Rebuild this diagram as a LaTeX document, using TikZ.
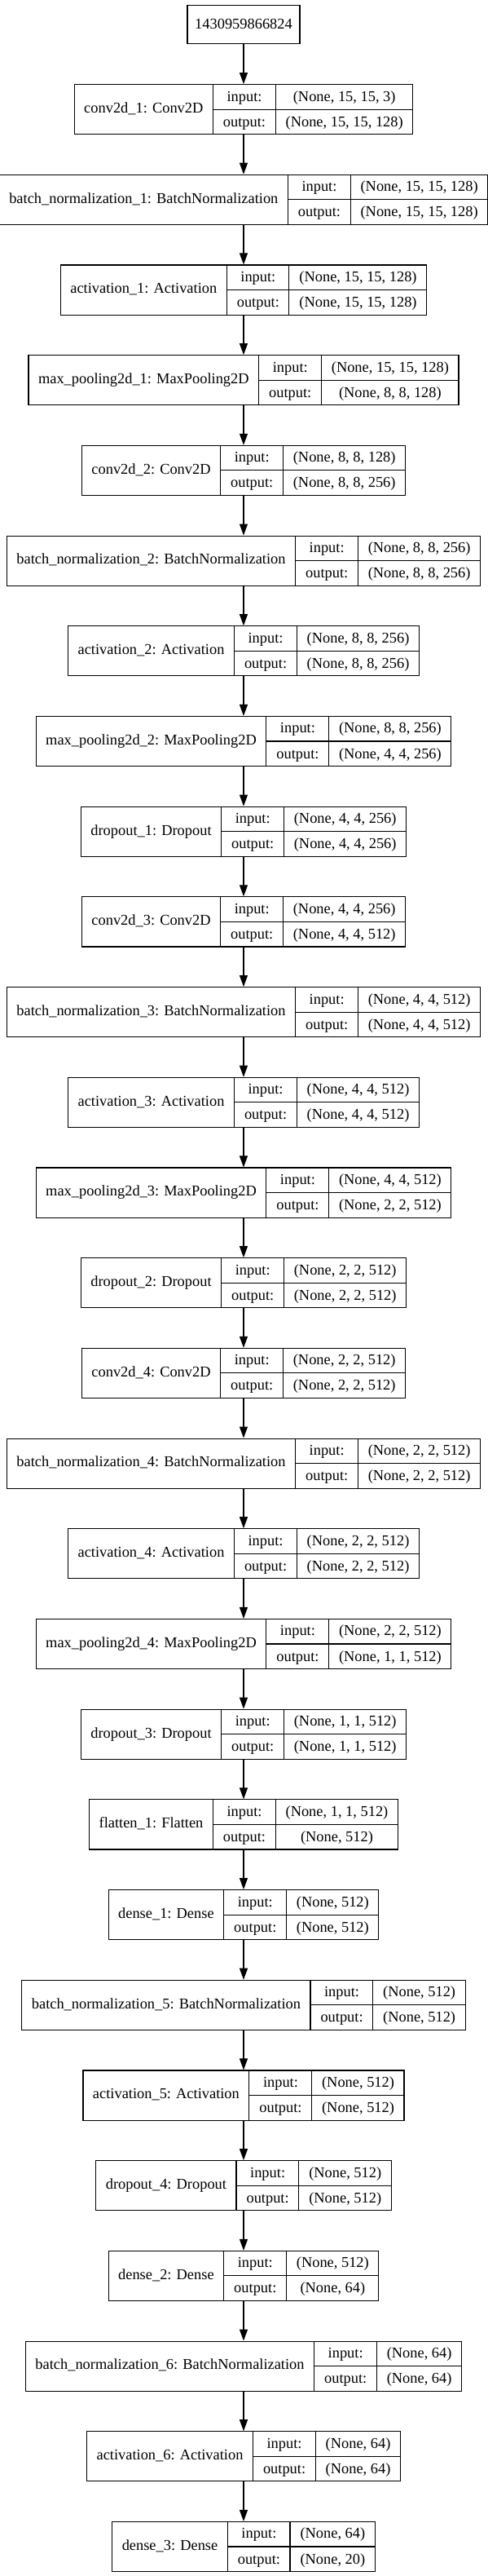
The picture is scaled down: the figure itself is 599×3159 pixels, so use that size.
\documentclass[tikz,border=0pt]{standalone}
\usepackage{fontspec}
\setmainfont{Liberation Serif}
\usetikzlibrary{arrows.meta}

\newcommand{\kfont}{\fontsize{18.4pt}{22pt}\selectfont}
\newcommand{\rowStrut}{\rule[-9.5pt]{0pt}{30pt}}
\setlength{\arrayrulewidth}{1.1pt}

% one keras layer: name, title, input shape, output shape, top y
\newcommand{\layerRec}[5]{%
  \node[recBox, anchor=north] (#1) at (299pt,-#5pt) {%
    \begin{tabular}{@{\hspace{12pt}}c@{\hspace{12pt}}|@{}c@{}}
      #2 &
      \begin{tabular}{@{\hspace{12pt}}c@{\hspace{12pt}}|@{\hspace{12pt}}c@{\hspace{12pt}}}
        \rowStrut input: & #3 \\ \hline
        \rowStrut output: & #4
      \end{tabular}
    \end{tabular}};
}

\begin{document}
\begin{tikzpicture}[
    line width=1.1pt,
    % --- Styles ---
    recBox/.style={
      draw,
      rectangle,
      inner sep=0pt,
      font=\kfont
    },
    inputNode/.style={
      draw,
      rectangle,
      inner sep=0pt,
      minimum width=138pt,
      minimum height=46.5pt,
      font=\kfont
    },
    flowArrow/.style={
      -{Triangle[length=14pt, width=10pt]}
    }
]
\path[use as bounding box] (0pt,0pt) rectangle (599pt,-3159pt);

%=====================
% Input node
%=====================
\node[inputNode, anchor=north] (in0) at (299pt,-6pt) {1430959866824};

%=====================
% Block 1
%=====================
\layerRec{conv1}{conv2d\_1: Conv2D}{(None, 15, 15, 3)}{(None, 15, 15, 128)}{103}
\layerRec{bn1}{batch\_normalization\_1: BatchNormalization}{(None, 15, 15, 128)}{(None, 15, 15, 128)}{213.7}
\layerRec{act1}{activation\_1: Activation}{(None, 15, 15, 128)}{(None, 15, 15, 128)}{324.4}
\layerRec{pool1}{max\_pooling2d\_1: MaxPooling2D}{(None, 15, 15, 128)}{(None, 8, 8, 128)}{435.1}

%=====================
% Block 2
%=====================
\layerRec{conv2}{conv2d\_2: Conv2D}{(None, 8, 8, 128)}{(None, 8, 8, 256)}{545.8}
\layerRec{bn2}{batch\_normalization\_2: BatchNormalization}{(None, 8, 8, 256)}{(None, 8, 8, 256)}{656.5}
\layerRec{act2}{activation\_2: Activation}{(None, 8, 8, 256)}{(None, 8, 8, 256)}{767.2}
\layerRec{pool2}{max\_pooling2d\_2: MaxPooling2D}{(None, 8, 8, 256)}{(None, 4, 4, 256)}{877.9}
\layerRec{drop1}{dropout\_1: Dropout}{(None, 4, 4, 256)}{(None, 4, 4, 256)}{988.6}

%=====================
% Block 3
%=====================
\layerRec{conv3}{conv2d\_3: Conv2D}{(None, 4, 4, 256)}{(None, 4, 4, 512)}{1099.3}
\layerRec{bn3}{batch\_normalization\_3: BatchNormalization}{(None, 4, 4, 512)}{(None, 4, 4, 512)}{1210}
\layerRec{act3}{activation\_3: Activation}{(None, 4, 4, 512)}{(None, 4, 4, 512)}{1320.7}
\layerRec{pool3}{max\_pooling2d\_3: MaxPooling2D}{(None, 4, 4, 512)}{(None, 2, 2, 512)}{1431.4}
\layerRec{drop2}{dropout\_2: Dropout}{(None, 2, 2, 512)}{(None, 2, 2, 512)}{1542.1}

%=====================
% Block 4
%=====================
\layerRec{conv4}{conv2d\_4: Conv2D}{(None, 2, 2, 512)}{(None, 2, 2, 512)}{1652.8}
\layerRec{bn4}{batch\_normalization\_4: BatchNormalization}{(None, 2, 2, 512)}{(None, 2, 2, 512)}{1763.5}
\layerRec{act4}{activation\_4: Activation}{(None, 2, 2, 512)}{(None, 2, 2, 512)}{1874.2}
\layerRec{pool4}{max\_pooling2d\_4: MaxPooling2D}{(None, 2, 2, 512)}{(None, 1, 1, 512)}{1984.9}
\layerRec{drop3}{dropout\_3: Dropout}{(None, 1, 1, 512)}{(None, 1, 1, 512)}{2095.6}

%=====================
% Dense head
%=====================
\layerRec{flat1}{flatten\_1: Flatten}{(None, 1, 1, 512)}{(None, 512)}{2206.3}
\layerRec{dense1}{dense\_1: Dense}{(None, 512)}{(None, 512)}{2317}
\layerRec{bn5}{batch\_normalization\_5: BatchNormalization}{(None, 512)}{(None, 512)}{2427.7}
\layerRec{act5}{activation\_5: Activation}{(None, 512)}{(None, 512)}{2538.4}
\layerRec{drop4}{dropout\_4: Dropout}{(None, 512)}{(None, 512)}{2649.1}
\layerRec{dense2}{dense\_2: Dense}{(None, 512)}{(None, 64)}{2759.8}
\layerRec{bn6}{batch\_normalization\_6: BatchNormalization}{(None, 64)}{(None, 64)}{2870.5}
\layerRec{act6}{activation\_6: Activation}{(None, 64)}{(None, 64)}{2981.2}
\layerRec{dense3}{dense\_3: Dense}{(None, 64)}{(None, 20)}{3091.9}

%=====================
% Arrows
%=====================
\draw[flowArrow] (in0) -- (conv1);
\draw[flowArrow] (conv1) -- (bn1);
\draw[flowArrow] (bn1) -- (act1);
\draw[flowArrow] (act1) -- (pool1);
\draw[flowArrow] (pool1) -- (conv2);
\draw[flowArrow] (conv2) -- (bn2);
\draw[flowArrow] (bn2) -- (act2);
\draw[flowArrow] (act2) -- (pool2);
\draw[flowArrow] (pool2) -- (drop1);
\draw[flowArrow] (drop1) -- (conv3);
\draw[flowArrow] (conv3) -- (bn3);
\draw[flowArrow] (bn3) -- (act3);
\draw[flowArrow] (act3) -- (pool3);
\draw[flowArrow] (pool3) -- (drop2);
\draw[flowArrow] (drop2) -- (conv4);
\draw[flowArrow] (conv4) -- (bn4);
\draw[flowArrow] (bn4) -- (act4);
\draw[flowArrow] (act4) -- (pool4);
\draw[flowArrow] (pool4) -- (drop3);
\draw[flowArrow] (drop3) -- (flat1);
\draw[flowArrow] (flat1) -- (dense1);
\draw[flowArrow] (dense1) -- (bn5);
\draw[flowArrow] (bn5) -- (act5);
\draw[flowArrow] (act5) -- (drop4);
\draw[flowArrow] (drop4) -- (dense2);
\draw[flowArrow] (dense2) -- (bn6);
\draw[flowArrow] (bn6) -- (act6);
\draw[flowArrow] (act6) -- (dense3);

\end{tikzpicture}
\end{document}
